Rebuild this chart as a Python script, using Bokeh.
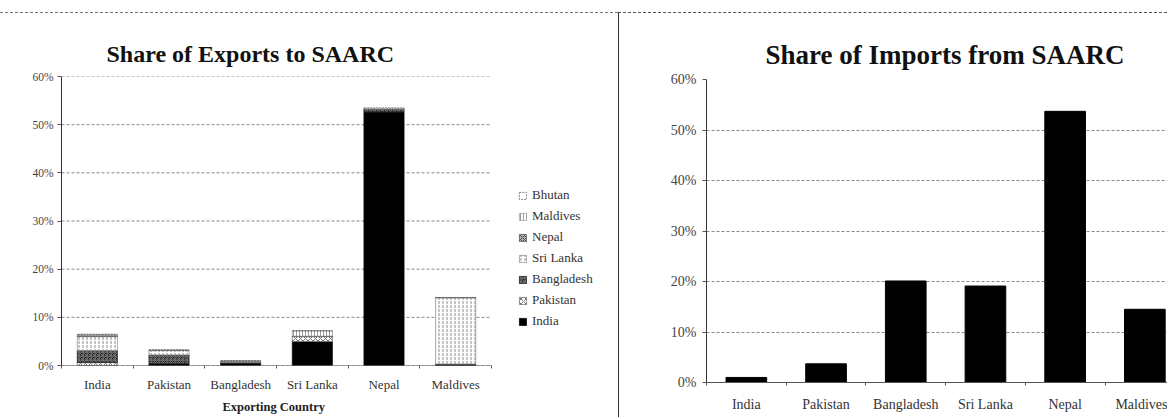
from bokeh.plotting import figure
from bokeh.models import (Range1d, FixedTicker, PrintfTickFormatter, ColumnDataSource,
                          Legend, LegendItem, Title)
from bokeh.layouts import row, column
from bokeh.embed import file_html
from bokeh.resources import INLINE

# ---------------- data ----------------
exporters = ["India", "Pakistan", "Bangladesh", "Sri Lanka", "Nepal", "Maldives"]
destinations = ["India", "Pakistan", "Bangladesh", "Sri Lanka", "Nepal", "Maldives", "Bhutan"]

# share (%) of each exporter's exports going to each SAARC destination
to_india      = [0.0, 0.4, 0.5, 5.0, 52.7, 0.3]
to_pakistan   = [0.6, 0.0, 0.2, 1.0, 0.0, 0.0]
to_bangladesh = [2.5, 1.8, 0.0, 0.1, 0.6, 0.0]
to_sri_lanka  = [2.9, 0.9, 0.1, 0.0, 0.0, 13.8]
to_nepal      = [0.3, 0.05, 0.1, 0.0, 0.0, 0.0]
to_maldives   = [0.1, 0.05, 0.05, 1.1, 0.0, 0.0]
to_bhutan     = [0.1, 0.0, 0.05, 0.0, 0.2, 0.0]

importers = ["India", "Pakistan", "Bangladesh", "Sri Lanka", "Nepal", "Maldives"]
import_share = [1.0, 3.7, 20.1, 19.1, 53.7, 14.5]

y_ticks = [0, 10, 20, 30, 40, 50, 60]

SERIF = "Liberation Serif"

# ---------------- helpers ----------------
def style_axes(p, tick_font, ylab_font, label_color="#333"):
    p.background_fill_color = "white"
    p.border_fill_color = "white"
    p.outline_line_color = None
    p.xgrid.grid_line_color = None
    ya = p.yaxis[0]
    ya.ticker = FixedTicker(ticks=y_ticks)
    ya.formatter = PrintfTickFormatter(format="%d%%")
    ya.major_label_text_font = SERIF
    ya.major_label_text_font_size = ylab_font
    ya.major_label_text_color = "#444"
    ya.axis_line_color = "#333"
    ya.major_tick_line_color = "#555"
    ya.major_tick_out = 4
    ya.major_tick_in = 0
    ya.minor_tick_line_color = None
    ya.major_label_standoff = 4
    xa = p.xaxis[0]
    xa.major_label_text_font = SERIF
    xa.major_label_text_font_size = tick_font
    xa.major_label_text_color = label_color
    xa.major_tick_line_color = None
    xa.minor_tick_line_color = "#555"
    xa.minor_tick_out = 3
    xa.minor_tick_in = 0


# ---------------- left: exports ----------------
n1 = len(exporters)
xs = [i + 0.5 for i in range(n1)]
keys = ["to_india", "to_pakistan", "to_bangladesh", "to_sri_lanka", "to_nepal", "to_maldives", "to_bhutan"]
src1 = ColumnDataSource(dict(x=xs, to_india=to_india, to_pakistan=to_pakistan,
                             to_bangladesh=to_bangladesh, to_sri_lanka=to_sri_lanka,
                             to_nepal=to_nepal, to_maldives=to_maldives, to_bhutan=to_bhutan))

# frame spans the plot area plus the legend area on its right
cat_px1 = 430 / 6.0
frame_w1 = 618 - 61
p1 = figure(width=618, height=405, x_range=Range1d(0, frame_w1 / cat_px1), y_range=Range1d(0, 60),
            output_backend="svg", toolbar_location=None,
            min_border_left=61, min_border_right=0, min_border_top=63, min_border_bottom=53)
style_axes(p1, "13px", "11.5px")
p1.ygrid.grid_line_color = None
p1.xaxis[0].axis_line_color = None
p1.xaxis[0].ticker = FixedTicker(ticks=xs, minor_ticks=list(range(n1 + 1)))
p1.xaxis[0].major_label_overrides = {x: n for x, n in zip(xs, exporters)}
p1.xaxis[0].major_label_standoff = 5

p1.add_layout(Title(text="Exporting Country", align="left", offset=161, standoff=6,
                    text_font=SERIF, text_font_style="bold", text_font_size="12.5px",
                    text_color="#222"), "below")

# gridlines only across the category area (0..n1)
p1.segment(x0=[0] * len(y_ticks), x1=[n1] * len(y_ticks), y0=y_ticks, y1=y_ticks,
           line_color="#8a8a8a", line_dash="3 2", line_width=1)
p1.segment(x0=[0], x1=[n1], y0=[0], y1=[0], line_color="#555", line_width=1)

p1.title.text = "Share of Exports to SAARC"
p1.title.text_font = SERIF
p1.title.text_font_size = "24px"
p1.title.text_font_style = "bold"
p1.title.text_color = "#111"
p1.title.align = "left"
p1.title.offset = 45
p1.title.standoff = 19

fills   = ["black", "white", "#1c1c1c", "white", "#b0b0b0", "white", "white"]
hatches = [" ", "diagonal_cross", "criss_cross", "vertical_dash", "diagonal_cross", "vertical_line", " "]
hcolors = ["black", "#777", "#777", "#8c8c8c", "#555", "#9a9a9a", "white"]
hscales = [6, 5, 4, 4, 4, 3, 6]
lcolors = ["black", "#666", "#222", "#888", "#555", "#999", "#555"]
ldash   = ["solid", "solid", "solid", "solid", "solid", "solid", "2 1"]

rs = p1.vbar_stack(keys, x="x", width=0.56, source=src1,
                   fill_color=fills, hatch_pattern=hatches, hatch_color=hcolors,
                   hatch_scale=hscales, line_color=lcolors, line_dash=ldash, line_width=0.7)

items = [LegendItem(label=d, renderers=[r]) for d, r in zip(destinations, rs)]
legend = Legend(items=list(reversed(items)), location=(457, 36),
                label_text_font=SERIF, label_text_font_size="13px", label_text_color="#333",
                glyph_width=9, glyph_height=9, label_standoff=5, spacing=5,
                padding=0, margin=0, border_line_color=None, background_fill_alpha=0)
p1.add_layout(legend, "center")
p1.styles = {"border-top": "1px dashed #777", "margin-top": "12px"}

# ---------------- right: imports ----------------
n2 = len(importers)
xs2 = [i + 0.5 for i in range(n2)]
src2 = ColumnDataSource(dict(x=xs2, share=import_share))
frame_w2, cat_px2 = 1168 - 706, 79.7

p2 = figure(width=549, height=405, x_range=Range1d(0, frame_w2 / cat_px2), y_range=Range1d(0, 60),
            output_backend="svg", toolbar_location=None,
            min_border_left=87, min_border_right=0,
            min_border_top=66, min_border_bottom=36)
style_axes(p2, "14px", "14px")
p2.ygrid.ticker = FixedTicker(ticks=y_ticks)
p2.ygrid.grid_line_color = "#8a8a8a"
p2.ygrid.grid_line_dash = "3 2"
p2.xaxis[0].axis_line_color = "#555"
p2.yaxis[0].major_label_standoff = 6
p2.xaxis[0].ticker = FixedTicker(ticks=xs2, minor_ticks=list(range(n2 + 1)))
p2.xaxis[0].major_label_overrides = {x: n for x, n in zip(xs2, importers)}
p2.xaxis[0].major_label_standoff = 8

p2.title.text = "Share of Imports from SAARC"
p2.title.text_font = SERIF
p2.title.text_font_size = "27px"
p2.title.text_font_style = "bold"
p2.title.text_color = "#111"
p2.title.align = "left"
p2.title.offset = 59
p2.title.standoff = 19

p2.vbar(x="x", top="share", width=0.51, source=src2, fill_color="black", line_color="black")
p2.styles = {"border-top": "1px dashed #555", "border-left": "1px solid #333", "margin-top": "12px"}

layout = row(column(p1), column(p2))
open("out.html", "w").write(file_html(layout, INLINE))
